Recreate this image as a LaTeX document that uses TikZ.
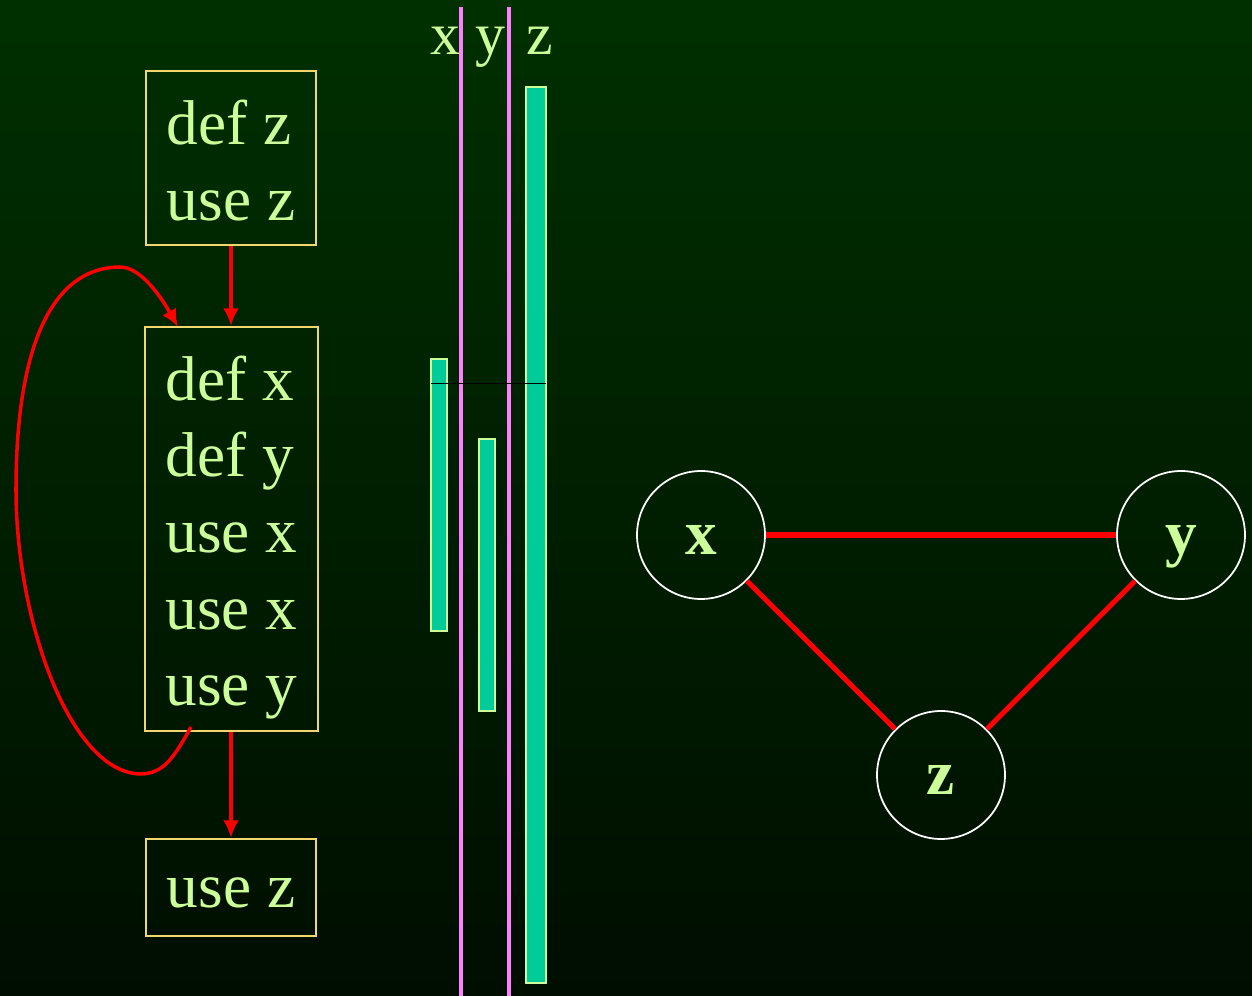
\documentclass[tikz,border=0pt]{standalone}
\usepackage{fontspec}
\setmainfont{Liberation Serif}
\usetikzlibrary{arrows.meta}

\definecolor{bgtop}{RGB}{0,48,0}
\definecolor{bgbot}{RGB}{0,14,0}
\definecolor{codetext}{RGB}{204,255,153}
\definecolor{boxline}{RGB}{240,215,110}
\definecolor{rangefill}{RGB}{0,204,153}
\definecolor{pinkline}{RGB}{255,128,255}

\newcommand\firstline[1]{\rule{0pt}{#1}}

\begin{document}
\begin{tikzpicture}[x=0.02cm,y=-0.02cm,
  codebox/.style={draw=boxline,line width=1.2pt,text=codetext,align=left,inner sep=0pt,
    minimum width=3.4cm,font=\fontsize{36}{43.5}\selectfont},
  flow/.style={red,line width=2pt,-{Latex[length=10pt,width=9pt]}},
  varnode/.style={circle,draw=white,line width=1pt,minimum size=2.56cm,inner sep=0pt,
    text=codetext,font=\fontsize{36}{40}\selectfont\bfseries,text height=22.5pt,text depth=0pt},
  interfere/.style={red,line width=3pt},
  live/.style={fill=rangefill,draw=codetext,line width=1.2pt},
  varlabel/.style={text=codetext,font=\fontsize{34}{40}\selectfont,anchor=base,inner sep=0pt}]
  \def \W {1252}
  \def \H {996}

  \fill[top color=bgtop,bottom color=bgbot] (0,0) rectangle (\W,\H);
  \useasboundingbox (0,0) rectangle (\W,\H);

  % code blocks
  \node[codebox,minimum height=3.48cm] (b1) at (231,158) {\firstline{28pt}def z\\use z};
  \node[codebox,minimum height=8.08cm,minimum width=3.46cm] (b2) at (231.5,529)
    {\firstline{35pt}def x\\def y\\use x\\use x\\use y};
  \node[codebox,minimum height=1.94cm] (b3) at (231,887.5) {\firstline{23.5pt}use z};

  \draw[flow] (b1.south) -- (b1.south |- b2.north);
  \draw[flow] (b1.south |- b2.south) -- (b3.north);

  \coordinate (loopout) at (191,727);
  \coordinate (loopin) at (178,327);
  \draw[flow] (loopout) .. controls (175,755) and (165,774) .. (140,774)
    .. controls (70,772) and (16,620) .. (16,490)
    .. controls (16,330) and (60,267) .. (120,267)
    .. controls (140,267) and (160,295) .. (loopin);

  % live ranges
  \foreach \x in {461,509}{
    \draw[pinkline,line width=1.8pt] (\x,7)--(\x,\H);
  }
  \foreach \xa/\ya/\xb/\yb in {431/359/447/631, 479/439/495/711, 526/87/546/983}{
    \draw[live] (\xa,\ya) rectangle (\xb,\yb);
  }
  \draw[black,line width=0.4pt] (431,383)--(546,383);

  \node[varlabel] (lx) at (445,55) {x};
  \node[varlabel] (ly) at (490,55) {y};
  \node[varlabel] (lz) at (540,55) {z};

  % interference graph
  \node[varnode] (x) at (701,535) {x};
  \node[varnode] (y) at (1181,535) {y};
  \node[varnode] (z) at (941,775) {z};

  \draw[interfere] (x)--(y);
  \draw[interfere] (x)--(z);
  \draw[interfere] (y)--(z);
\end{tikzpicture}
\end{document}
